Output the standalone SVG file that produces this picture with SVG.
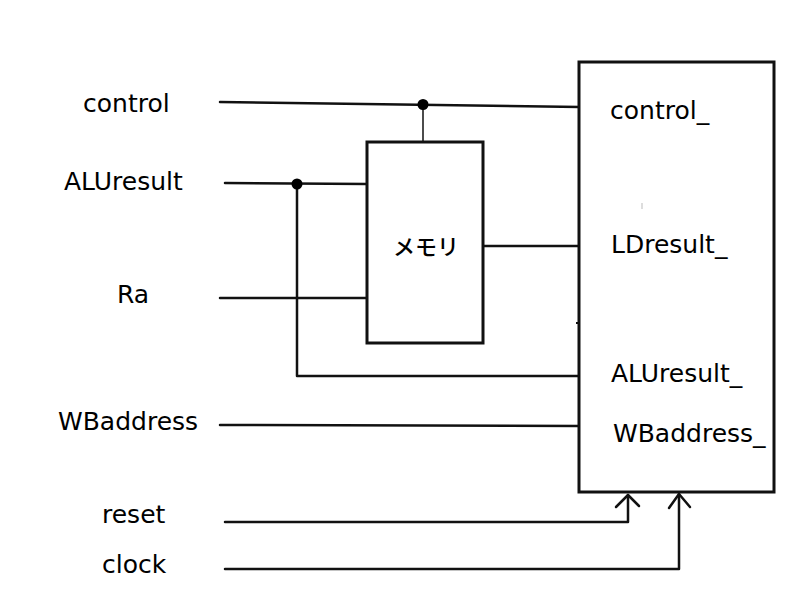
<svg xmlns="http://www.w3.org/2000/svg" width="800" height="600" viewBox="0 0 800 600">
<style>
.w{fill:none;stroke:#111;stroke-width:2.5;stroke-linecap:round;stroke-linejoin:round}
.b{fill:#fff;stroke:#111;stroke-width:3}
.t{font-family:"DejaVu Sans","Noto Sans",sans-serif;font-size:25px;fill:#000}
.j{font-family:"Noto Sans CJK JP",sans-serif;font-size:22px;font-weight:500;fill:#000}
.d{fill:#000}
</style>
<rect width="800" height="600" fill="#fff"/>
<g id="connectors">
<path class="w" d="M220,102 L580,107"/>
<path class="w" style="stroke-width:1.5" d="M423,104 L423,142"/>
<path class="w" d="M225,183 L367,184"/>
<path class="w" d="M297,184 L297,376 L580,376"/>
<path class="w" d="M220,298 L367,298"/>
<path class="w" d="M483,246 L580,246"/>
<path class="w" d="M220,425 L580,426"/>
<path class="w" d="M225,522 L628,522 L628,495"/>
<path class="w" d="M616,507 L628,495 L639,506"/>
<path class="w" d="M225,569 L679,569 L679,494"/>
<path class="w" d="M669,508 L679,494 L690,507"/>
<circle class="d" cx="423" cy="104.5" r="5.5"/>
<circle class="d" cx="297" cy="184" r="5.5"/>
</g>
<g id="register">
<rect class="b" x="579" y="62" width="195" height="430"/>
<path d="M576,323 L579,323" stroke="#111" stroke-width="2"/>
<path d="M642,203 L642,209" stroke="#bbb" stroke-width="1"/>
<text class="t" x="610" y="119">control_</text>
<text class="t" x="611" y="253">LDresult_</text>
<text class="t" x="611" y="382">ALUresult_</text>
<text class="t" x="613" y="442">WBaddress_</text>
</g>
<g id="memory">
<rect class="b" x="367" y="142" width="116" height="201"/>
<text class="j" x="393" y="255">メモリ</text>
</g>
<g id="labels">
<text class="t" x="83" y="112">control</text>
<text class="t" x="64" y="190">ALUresult</text>
<text class="t" x="117" y="303">Ra</text>
<text class="t" x="58" y="430">WBaddress</text>
<text class="t" x="102" y="523">reset</text>
<text class="t" x="102" y="573">clock</text>
</g>
</svg>
